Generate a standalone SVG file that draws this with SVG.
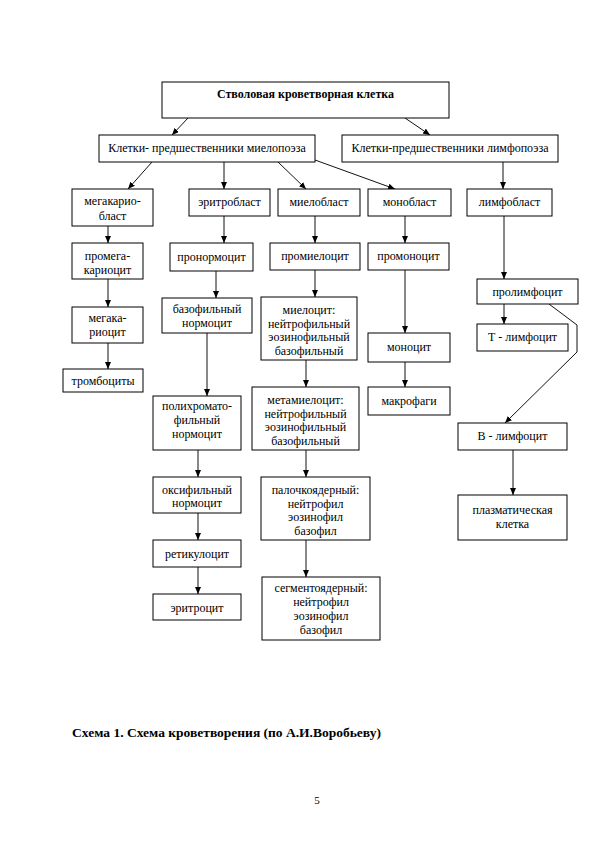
<svg xmlns="http://www.w3.org/2000/svg" width="595" height="842" viewBox="0 0 595 842">
<defs>
<style>
rect.b{fill:#fff;stroke:#000;stroke-width:1}
text{font-family:"Liberation Serif","Times New Roman",serif;font-size:12px;fill:#000;text-anchor:middle}
text.bold{font-weight:bold}
.c line,.c polyline{stroke:#111;stroke-width:1;fill:none}
</style>
<marker id="ah" markerUnits="userSpaceOnUse" markerWidth="8" markerHeight="7" refX="7" refY="3" orient="auto">
<path d="M0,0 L7,3 L0,6 z" fill="#000"/>
</marker>
</defs>
<rect width="595" height="842" fill="#fff"/>

<g class="c" id="connectors">
<line x1="188" y1="118" x2="172" y2="135" marker-end="url(#ah)"/>
<line x1="405" y1="118" x2="430" y2="135" marker-end="url(#ah)"/>
<line x1="152" y1="162" x2="128" y2="189" marker-end="url(#ah)"/>
<line x1="224" y1="162" x2="224" y2="189" marker-end="url(#ah)"/>
<line x1="278" y1="162" x2="306" y2="189" marker-end="url(#ah)"/>
<line x1="315" y1="160" x2="395" y2="189" marker-end="url(#ah)"/>
<line x1="503" y1="162" x2="503" y2="189" marker-end="url(#ah)"/>
<line x1="108" y1="226" x2="108" y2="243" marker-end="url(#ah)"/>
<line x1="108" y1="279" x2="108" y2="307" marker-end="url(#ah)"/>
<line x1="108" y1="343" x2="108" y2="369" marker-end="url(#ah)"/>
<line x1="224" y1="216" x2="224" y2="243" marker-end="url(#ah)"/>
<line x1="216" y1="271" x2="216" y2="298" marker-end="url(#ah)"/>
<line x1="207" y1="333" x2="207" y2="396" marker-end="url(#ah)"/>
<line x1="198" y1="450" x2="198" y2="477" marker-end="url(#ah)"/>
<line x1="198" y1="513" x2="198" y2="540" marker-end="url(#ah)"/>
<line x1="198" y1="567" x2="198" y2="594" marker-end="url(#ah)"/>
<line x1="315" y1="216" x2="315" y2="243" marker-end="url(#ah)"/>
<line x1="315" y1="270" x2="315" y2="297" marker-end="url(#ah)"/>
<line x1="306" y1="360" x2="306" y2="387" marker-end="url(#ah)"/>
<line x1="306" y1="450" x2="306" y2="477" marker-end="url(#ah)"/>
<line x1="306" y1="540" x2="306" y2="577" marker-end="url(#ah)"/>
<line x1="405" y1="216" x2="405" y2="243" marker-end="url(#ah)"/>
<line x1="405" y1="270" x2="405" y2="333" marker-end="url(#ah)"/>
<line x1="405" y1="362" x2="405" y2="387" marker-end="url(#ah)"/>
<line x1="504" y1="216" x2="504" y2="279" marker-end="url(#ah)"/>
<line x1="504" y1="304" x2="504" y2="324" marker-end="url(#ah)"/>
<polyline points="549,304 577,325 577,352 505,423" marker-end="url(#ah)"/>
<line x1="513" y1="450" x2="513" y2="495" marker-end="url(#ah)"/>
</g>

<g id="stem"><rect class="b" x="162" y="82" width="287" height="36"/><text class="bold" x="305.5" y="98">Стволовая кроветворная клетка</text></g>
<g id="myelo"><rect class="b" x="99" y="135" width="216" height="27"/><text x="207" y="152">Клетки- предшественники миелопоэза</text></g>
<g id="lympho"><rect class="b" x="342" y="135" width="216" height="27"/><text x="450" y="152">Клетки-предшественники лимфопоэза</text></g>

<g id="megakarioblast"><rect class="b" x="72" y="189" width="81" height="37"/><text x="112.5" y="205">мегакарио-</text><text x="112.5" y="219.5">бласт</text></g>
<g id="erythroblast"><rect class="b" x="189" y="189" width="81" height="27"/><text x="229.5" y="206">эритробласт</text></g>
<g id="myeloblast"><rect class="b" x="278" y="189" width="82" height="27"/><text x="319" y="206">миелобласт</text></g>
<g id="monoblast"><rect class="b" x="368" y="189" width="83" height="27"/><text x="409.5" y="206">монобласт</text></g>
<g id="lymphoblast"><rect class="b" x="467" y="189" width="85" height="27"/><text x="509.5" y="206">лимфобласт</text></g>

<g id="promegakaryocyte"><rect class="b" x="72" y="243" width="71" height="36"/><text x="107.5" y="259.5">промега-</text><text x="107.5" y="273.5">кариоцит</text></g>
<g id="pronormocyte"><rect class="b" x="170" y="243" width="83" height="28"/><text x="211.5" y="260.5">пронормоцит</text></g>
<g id="promyelocyte"><rect class="b" x="270" y="243" width="90" height="27"/><text x="315" y="260">промиелоцит</text></g>
<g id="promonocyte"><rect class="b" x="368" y="243" width="81" height="27"/><text x="408.5" y="260">промоноцит</text></g>

<g id="megakaryocyte"><rect class="b" x="72" y="307" width="71" height="36"/><text x="107.5" y="322">мегака-</text><text x="107.5" y="336">риоцит</text></g>
<g id="basophilic-normocyte"><rect class="b" x="162" y="298" width="90" height="35"/><text x="207" y="313">базофильный</text><text x="207" y="327">нормоцит</text></g>
<g id="myelocyte"><rect class="b" x="261" y="297" width="96" height="63"/><text x="309" y="314">миелоцит:</text><text x="309" y="327.5">нейтрофильный</text><text x="309" y="341">эозинофильный</text><text x="309" y="354.5">базофильный</text></g>
<g id="monocyte"><rect class="b" x="368" y="333" width="82" height="29"/><text x="409" y="351">моноцит</text></g>
<g id="thrombocytes"><rect class="b" x="63" y="369" width="80" height="23"/><text x="103" y="385">тромбоциты</text></g>
<g id="macrophages"><rect class="b" x="368" y="387" width="82" height="28"/><text x="409" y="405">макрофаги</text></g>
<g id="metamyelocyte"><rect class="b" x="252" y="387" width="107" height="63"/><text x="305.5" y="404">метамиелоцит:</text><text x="305.5" y="417.5">нейтрофильный</text><text x="305.5" y="431">эозинофильный</text><text x="305.5" y="444.5">базофильный</text></g>
<g id="polychromatophilic"><rect class="b" x="153" y="396" width="88" height="54"/><text x="197" y="410">полихромато-</text><text x="197" y="424">фильный</text><text x="197" y="438">нормоцит</text></g>
<g id="oxyphilic"><rect class="b" x="153" y="477" width="88" height="36"/><text x="197" y="494">оксифильный</text><text x="197" y="507">нормоцит</text></g>
<g id="reticulocyte"><rect class="b" x="153" y="540" width="88" height="27"/><text x="197" y="558">ретикулоцит</text></g>
<g id="erythrocyte"><rect class="b" x="153" y="594" width="88" height="26"/><text x="197" y="612">эритроцит</text></g>
<g id="band"><rect class="b" x="261" y="477" width="109" height="63"/><text x="315.5" y="494">палочкоядерный:</text><text x="315.5" y="507.5">нейтрофил</text><text x="315.5" y="521">эозинофил</text><text x="315.5" y="534.5">базофил</text></g>
<g id="segmented"><rect class="b" x="262" y="577" width="118" height="63"/><text x="321" y="592">сегментоядерный:</text><text x="321" y="606">нейтрофил</text><text x="321" y="620">эозинофил</text><text x="321" y="633.5">базофил</text></g>
<g id="prolymphocyte"><rect class="b" x="477" y="279" width="101" height="25"/><text x="527.5" y="295.5">пролимфоцит</text></g>
<g id="t-lymphocyte"><rect class="b" x="477" y="324" width="91" height="27"/><text x="522.5" y="341">Т - лимфоцит</text></g>
<g id="b-lymphocyte"><rect class="b" x="458" y="423" width="109" height="27"/><text x="512.5" y="440">В - лимфоцит</text></g>
<g id="plasma"><rect class="b" x="458" y="495" width="109" height="45"/><text x="512.5" y="514">плазматическая</text><text x="512.5" y="528">клетка</text></g>

<text class="bold" x="72" y="737" style="text-anchor:start;font-size:13.5px">Схема 1. Схема кроветворения (по А.И.Воробьеву)</text>
<text x="317" y="804" style="font-size:11px">5</text>
</svg>
